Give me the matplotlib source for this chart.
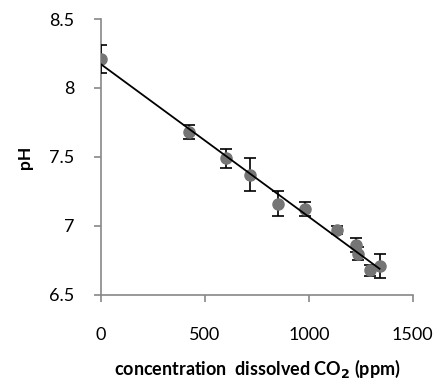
import numpy as np
import matplotlib.pyplot as plt

plt.rcParams['font.family'] = ['Lato', 'DejaVu Sans']

# dissolved CO2 (ppm), pH and error
co2 = [0, 425, 600, 715, 850, 980, 1135, 1225, 1235, 1295, 1340]
ph = [8.21, 7.68, 7.49, 7.37, 7.16, 7.12, 6.97, 6.86, 6.80, 6.68, 6.71]
err = [0.10, 0.05, 0.07, 0.12, 0.09, 0.05, 0.03, 0.05, 0.05, 0.04, 0.09]

fig = plt.figure(figsize=(4.42, 3.85), dpi=100)
ax = fig.add_axes([0.2285, 0.234, 0.7055, 0.7166])

ax.errorbar(co2, ph, yerr=err, fmt='o', color='#757575', ecolor='black',
            elinewidth=1.2, capsize=4, capthick=1.2, markersize=8, zorder=3)

# linear trendline
coef = np.polyfit(co2, ph, 1)
xs = np.array([min(co2), max(co2)])
ax.plot(xs, np.polyval(coef, xs), color='black', linewidth=1.3, zorder=4)

ax.set_xlim(0, 1500)
ax.set_ylim(6.5, 8.5)
ax.set_xticks([0, 500, 1000, 1500])
ax.set_xticklabels(['0', '500', '1000', '1500'])
ax.set_yticks([6.5, 7, 7.5, 8, 8.5])
ax.set_yticklabels(['6.5', '7', '7.5', '8', '8.5'])

for s in ['top', 'right']:
    ax.spines[s].set_visible(False)
for s in ['left', 'bottom']:
    ax.spines[s].set_color('#888888')
    ax.spines[s].set_linewidth(1.2)
ax.tick_params(axis='both', direction='out', color='#888888', labelsize=13, width=1.2)
ax.tick_params(axis='x', length=5, pad=18)
ax.tick_params(axis='y', length=5, pad=14)

ax.set_xlabel('concentration  dissolved CO$_\\mathbf{2}$ (ppm)', fontsize=13,
              fontweight='bold', labelpad=11)
ax.set_ylabel('pH', fontsize=12.5, fontweight='bold', labelpad=12)

fig.savefig('out.png', dpi=100)
